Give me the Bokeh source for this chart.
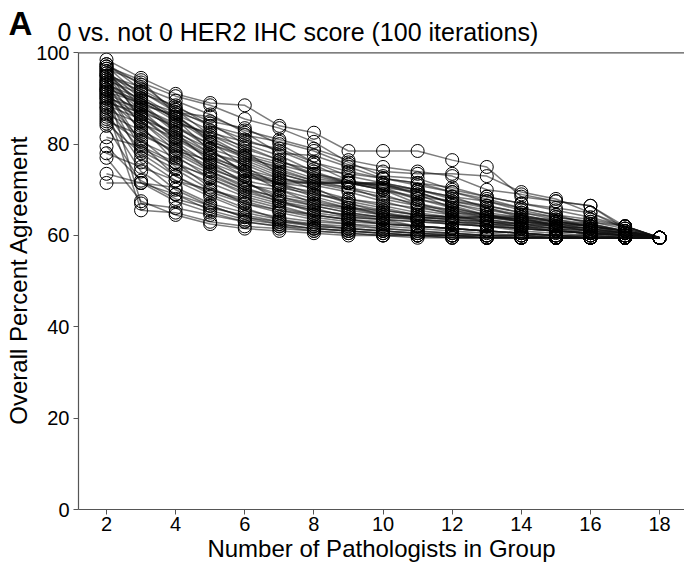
from bokeh.plotting import figure
from bokeh.models import Range1d, FixedTicker, Label, Span
from bokeh.embed import file_html
from bokeh.resources import INLINE

# Number of pathologists in group (x values)
group_sizes = list(range(2, 19))
x_ticks = [2, 4, 6, 8, 10, 12, 14, 16, 18]
y_ticks = [0, 20, 40, 60, 80, 100]

# Overall percent agreement per iteration
it01 = [98.5, 94.5, 91, 89, 88.5, 84, 82.5, 78.5, 78.5, 78.5, 76.5, 75, 68.5, 67.5, 66.5, 62, 59.5]
it02 = [97.5, 92, 88, 85, 83.5, 80, 76, 73, 71.5, 70, 68.5, 66, 64.5, 63, 62, 61, 59.5]
it03 = [97, 90.5, 86, 81, 77, 74, 72, 71.5, 70, 67, 65, 64, 63.5, 62, 61, 60.5, 59.5]
it04 = [96.5, 93.5, 90.5, 88.5, 85.5, 83.5, 80.5, 76, 73, 72.5, 70, 68.5, 67, 66, 65, 61.5, 59.5]
it05 = [96, 88, 84, 79, 73.5, 71.5, 70.5, 67, 65, 63.5, 62.5, 62, 61, 60.5, 60, 59.5, 59.5]
it06 = [95.5, 91.5, 87, 84.5, 80, 77.5, 74, 71.5, 71.5, 69, 66, 64.5, 63, 62.5, 61.5, 60.5, 59.5]
it07 = [95, 86, 80.5, 75.5, 72, 67.5, 66, 64, 63.5, 62, 61.5, 61, 60.5, 60, 59.5, 59.5, 59.5]
it08 = [95, 92.5, 89.5, 86.5, 82.5, 78, 77.5, 75, 72.5, 71, 69.5, 68, 66, 64.5, 62.5, 61, 59.5]
it09 = [94.5, 89.5, 85, 82, 78.5, 73.5, 71.5, 70.5, 69, 66.5, 64.5, 63, 62.5, 61.5, 61, 60, 59.5]
it10 = [94, 84, 76, 70.5, 67, 65, 63.5, 62.5, 62, 61.5, 61, 60.5, 60, 60, 59.5, 59.5, 59.5]
it11 = [94, 91, 88.5, 84, 81, 78.5, 75.5, 72, 71, 70, 68, 66.5, 65, 63.5, 62, 61, 59.5]
it12 = [93.5, 87.5, 81, 77, 74.5, 72.5, 71.5, 71.5, 70, 68.5, 67.5, 66, 64, 62, 61.5, 60, 59.5]
it13 = [93, 90, 85.5, 80.5, 75, 71, 68.5, 66.5, 64.5, 64, 63.5, 62.5, 62, 61, 60.5, 60, 59.5]
it14 = [93, 82.5, 78, 74, 70.5, 68, 66.5, 65, 64, 64, 63.5, 63, 62, 61.5, 60.5, 59.5, 59.5]
it15 = [92.5, 88.5, 86.5, 83, 79, 76.5, 73, 71.5, 70.5, 69.5, 67, 65.5, 64.5, 63, 62.5, 61, 59.5]
it16 = [92, 86.5, 82, 78, 76, 73, 70, 68, 66.5, 65, 64, 63, 62.5, 62, 61, 60.5, 59.5]
it17 = [92, 80, 73, 69, 66, 63.5, 62, 61.5, 61, 60.5, 60, 60, 59.5, 59.5, 59.5, 59.5, 59.5]
it18 = [91.5, 89, 86, 81.5, 77.5, 74.5, 72, 70.5, 68, 66.5, 65.5, 64, 63, 62, 61.5, 60.5, 59.5]
it19 = [91, 85, 79.5, 76, 73, 71, 69.5, 67, 65.5, 64.5, 64, 63.5, 62.5, 61.5, 60, 59.5, 59.5]
it20 = [91, 87.5, 83.5, 80, 77, 75, 72.5, 71.5, 71, 69, 67.5, 66.5, 65, 64, 63, 61.5, 59.5]
it21 = [90.5, 77, 72, 68.5, 65.5, 64, 63, 62.5, 61.5, 61, 60.5, 60, 60, 59.5, 59.5, 59.5, 59.5]
it22 = [90, 88, 84.5, 82.5, 80.5, 79, 76, 74, 72.5, 71.5, 70.5, 68.5, 67, 65.5, 64, 62, 59.5]
it23 = [90, 83.5, 77.5, 72.5, 69.5, 67.5, 65, 64, 63.5, 63, 62.5, 62, 61.5, 61, 60.5, 60, 59.5]
it24 = [89.5, 86, 80, 74, 71, 70, 68, 66, 64.5, 63.5, 63, 62.5, 61.5, 61, 60.5, 60, 59.5]
it25 = [89, 81, 75, 71.5, 68.5, 66.5, 64.5, 63.5, 62.5, 62, 61.5, 61, 60.5, 60, 59.5, 59.5, 59.5]
it26 = [88.5, 85.5, 82.5, 79, 76.5, 73.5, 71.5, 70, 68.5, 67, 65.5, 64.5, 63.5, 62.5, 61.5, 60.5, 59.5]
it27 = [88, 78.5, 74.5, 70, 67.5, 65.5, 64.5, 63.5, 63, 62, 61.5, 61, 60.5, 60, 60, 59.5, 59.5]
it28 = [87.5, 84.5, 81.5, 77.5, 74, 72, 71.5, 71.5, 70, 68, 66.5, 64.5, 63, 62, 61, 60, 59.5]
it29 = [87, 76, 70, 66.5, 64, 63, 62, 61.5, 61, 60.5, 60.5, 60, 60, 59.5, 59.5, 59.5, 59.5]
it30 = [86.5, 83, 79, 75, 71.5, 69, 67.5, 66, 65, 64, 63.5, 63, 62, 61.5, 61, 60, 59.5]
it31 = [86, 74, 69, 65.5, 63.5, 62.5, 61.5, 61, 60.5, 60, 60, 59.5, 59.5, 59.5, 59.5, 59.5, 59.5]
it32 = [85.5, 80.5, 77, 73.5, 70, 68.5, 66.5, 65, 64, 63.5, 63, 62, 61.5, 61, 60.5, 60, 59.5]
it33 = [85, 82, 78.5, 76.5, 74, 71.5, 69, 67.5, 66, 64.5, 64, 63.5, 62.5, 62, 61.5, 60.5, 59.5]
it34 = [84, 71.5, 67.5, 65, 63, 62, 61, 60.5, 60, 60, 59.5, 59.5, 59.5, 59.5, 59.5, 59.5, 59.5]
it35 = [81.5, 79.5, 76, 72.5, 69, 67, 65.5, 64.5, 63.5, 63, 62.5, 62, 61.5, 61, 60.5, 60, 59.5]
it36 = [79.5, 72, 68, 66, 64.5, 63, 62.5, 62, 61.5, 61, 60.5, 60, 60, 59.5, 59.5, 59.5, 59.5]
it37 = [78, 75, 72, 70, 68, 66, 64.5, 63.5, 62.5, 62, 61.5, 61, 60.5, 60, 60, 59.5, 59.5]
it38 = [77, 67.5, 64.5, 62.5, 61.5, 61, 60.5, 60, 60, 59.5, 59.5, 59.5, 59.5, 59.5, 59.5, 59.5, 59.5]
it39 = [73.5, 71.5, 70.5, 67, 65, 63.5, 62.5, 61.5, 61, 60.5, 60, 60, 59.5, 59.5, 59.5, 59.5, 59.5]
it40 = [71.5, 71.5, 69, 66.5, 64, 62.5, 61.5, 61, 60.5, 60, 60, 59.5, 59.5, 59.5, 59.5, 59.5, 59.5]
it41 = [96.5, 85, 78.5, 74.5, 72, 70.5, 69, 68, 67, 66, 65, 64.5, 64, 63, 62, 61, 59.5]
it42 = [95.5, 89, 83, 78, 75.5, 72.5, 71, 69.5, 67.5, 65.5, 64.5, 64, 63, 62.5, 62, 61, 59.5]
it43 = [88, 65.5, 65, 63, 62, 61.5, 61, 60.5, 60, 60, 59.5, 59.5, 59.5, 59.5, 59.5, 59.5, 59.5]
it44 = [92.5, 67, 66, 64.5, 63, 62, 61.5, 61, 60.5, 60, 60, 59.5, 59.5, 59.5, 59.5, 59.5, 59.5]
it45 = [97.5, 93, 87.5, 82, 79.5, 76.5, 73.5, 71.5, 71.5, 70, 68.5, 67.5, 66, 64.5, 63.5, 62, 59.5]
it46 = [96, 90, 85.5, 78.5, 74, 70, 67, 65.5, 64.5, 64, 64, 64, 63.5, 63, 62, 60.5, 59.5]
it47 = [93.5, 88.5, 82.5, 76, 71.5, 68.5, 67, 66, 65.5, 64.5, 64, 64, 64, 63.5, 62.5, 61, 59.5]
it48 = [90.5, 86.5, 81.5, 77, 73, 71.5, 71.5, 71.5, 71, 69.5, 67, 65, 64, 63, 62, 61, 59.5]
it49 = [89, 87, 84, 80, 77.5, 75.5, 73.5, 72, 70.5, 68, 66, 64.5, 63.5, 62.5, 62, 60.5, 59.5]
it50 = [92, 89.5, 87, 86, 83, 81, 79, 76.5, 75, 74, 73, 70, 69, 67.5, 66.5, 61.5, 59.5]
it51 = [95, 91.5, 87.5, 84, 82, 80.5, 78.5, 75.5, 74, 73.5, 73.5, 73, 69.5, 68, 65, 62, 59.5]
it52 = [84.5, 78, 73, 69.5, 67, 65.5, 64, 63, 62.5, 62, 61.5, 61, 60.5, 60, 59.5, 59.5, 59.5]
it53 = [97, 94, 86.5, 80.5, 78, 76, 74.5, 73.5, 72.5, 71.5, 69.5, 67.5, 65.5, 64, 63, 62, 59.5]
it54 = [91.5, 79, 75.5, 73, 70, 67.5, 65.5, 64.5, 64, 63.5, 63, 62.5, 62, 61, 60.5, 60, 59.5]

iterations = [it01, it02, it03, it04, it05, it06, it07, it08, it09, it10,
              it11, it12, it13, it14, it15, it16, it17, it18, it19, it20,
              it21, it22, it23, it24, it25, it26, it27, it28, it29, it30,
              it31, it32, it33, it34, it35, it36, it37, it38, it39, it40,
              it41, it42, it43, it44, it45, it46, it47, it48, it49, it50,
              it51, it52, it53, it54]

title_text = "0 vs. not 0 HER2 IHC score (100 iterations)"
panel_letter = "A"
x_label = "Number of Pathologists in Group"
y_label = "Overall Percent Agreement"

FONT = "Liberation Sans"
AX = "#555555"

# ---- header strip holding the panel letter and the title (its own root) ----
head = figure(width=684, height=50, output_backend="svg", toolbar_location=None,
              x_range=Range1d(0, 684), y_range=Range1d(0, 50),
              x_axis_type=None, y_axis_type=None, min_border=0)
head.outline_line_color = None
head.xgrid.visible = False
head.ygrid.visible = False
head.add_layout(Label(x=8, y=27, text=panel_letter, text_font=FONT, text_font_size="33px",
                      text_font_style="bold", text_color="black", text_baseline="alphabetic"))
head.add_layout(Label(x=57, y=19, text=title_text, text_font=FONT, text_font_size="25px",
                      text_color="black", text_baseline="alphabetic"))

# ---- main chart (pulled up 12px so the "100" tick label fits; transparent border) ----
p = figure(width=684, height=528, output_backend="svg", toolbar_location=None,
           x_range=Range1d(1.19, 18.72), y_range=Range1d(0, 100.5),
           min_border_left=78, min_border_right=0, min_border_top=12, min_border_bottom=57)
p.styles = {"margin-top": "-12px"}
p.outline_line_color = None
p.border_fill_color = None
p.background_fill_color = "white"
p.xgrid.visible = False
p.ygrid.visible = False

xs = [group_sizes for _ in iterations]
p.multi_line(xs=xs, ys=iterations, line_color="#111111", line_alpha=0.55, line_width=1.5)

all_x = [x for it in iterations for x in group_sizes]
all_y = [v for it in iterations for v in it]
p.scatter(all_x, all_y, size=13, fill_color=None, line_color="black", line_width=1)

for ax in (p.xaxis[0], p.yaxis[0]):
    ax.axis_line_color = AX
    ax.axis_line_width = 1.2
    ax.major_tick_line_color = AX
    ax.major_tick_out = 5
    ax.major_tick_in = 0
    ax.minor_tick_line_color = None
    ax.major_label_text_font = FONT
    ax.major_label_text_font_size = "20px"
    ax.major_label_text_color = "black"
    ax.axis_label_text_font = FONT
    ax.axis_label_text_font_size = "24px"
    ax.axis_label_text_font_style = "normal"
    ax.axis_label_text_color = "black"

p.xaxis.ticker = FixedTicker(ticks=x_ticks)
p.yaxis.ticker = FixedTicker(ticks=y_ticks)
p.yaxis.bounds = (0, 100)
p.xaxis.axis_label = x_label
p.yaxis.axis_label = y_label
p.xaxis.major_label_standoff = 2
p.xaxis.axis_label_standoff = 1
p.yaxis.major_label_standoff = 4
p.yaxis.axis_label_standoff = 1

p.add_layout(Span(location=100, dimension="width", line_color=AX, line_width=1.2))

open("out.html", "w").write(file_html([head, p], INLINE))
